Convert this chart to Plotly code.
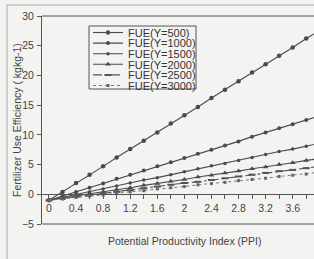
import plotly.graph_objects as go

ppi = [0.0, 0.2, 0.4, 0.6, 0.8, 1.0, 1.2, 1.4, 1.6, 1.8, 2.0,
       2.2, 2.4, 2.6, 2.8, 3.0, 3.2, 3.4, 3.6, 3.8, 4.0]

fue_500 = [-1.0, 0.4, 1.9, 3.3, 4.7, 6.2, 7.6, 9.0, 10.4, 11.9, 13.3,
           14.7, 16.2, 17.6, 19.0, 20.5, 21.9, 23.3, 24.7, 26.2, 27.6]
fue_1000 = [-1.0, -0.3, 0.4, 1.1, 1.8, 2.6, 3.3, 4.0, 4.7, 5.4, 6.1,
            6.8, 7.5, 8.2, 8.9, 9.7, 10.4, 11.1, 11.8, 12.5, 13.2]
fue_1500 = [-1.0, -0.5, 0.0, 0.4, 0.9, 1.4, 1.9, 2.4, 2.8, 3.3, 3.8,
            4.3, 4.8, 5.2, 5.7, 6.2, 6.7, 7.2, 7.6, 8.1, 8.6]
fue_2000 = [-1.0, -0.7, -0.3, 0.1, 0.4, 0.8, 1.1, 1.5, 1.8, 2.2, 2.5,
            2.9, 3.2, 3.6, 3.9, 4.3, 4.6, 5.0, 5.3, 5.7, 6.0]
fue_2500 = [-1.0, -0.7, -0.4, -0.1, 0.1, 0.4, 0.7, 1.0, 1.3, 1.6, 1.9,
            2.1, 2.4, 2.7, 3.0, 3.3, 3.6, 3.9, 4.1, 4.4, 4.7]
fue_3000 = [-1.0, -0.8, -0.5, -0.3, -0.1, 0.2, 0.4, 0.6, 0.9, 1.1, 1.3,
            1.6, 1.8, 2.0, 2.3, 2.5, 2.7, 3.0, 3.2, 3.4, 3.7]

series_names = ["FUE(Y=500)", "FUE(Y=1000)", "FUE(Y=1500)",
                "FUE(Y=2000)", "FUE(Y=2500)", "FUE(Y=3000)"]
series_values = [fue_500, fue_1000, fue_1500, fue_2000, fue_2500, fue_3000]

x_ticks = [0, 0.4, 0.8, 1.2, 1.6, 2, 2.4, 2.8, 3.2, 3.6]
x_tick_text = ["0", "0.4", "0.8", "1.2", "1.6", "2", "2.4", "2.8", "3.2", "3.6"]
y_ticks = [-5, 0, 5, 10, 15, 20, 25, 30]

x_title = "Potential Productivity Index (PPI)"
y_title = "Fertilizer Use Efficiency ( kgkg-1)"

# styles
dark = "#4a4a4a"
styles = [
    dict(line=dict(color=dark, width=1.1), marker=dict(symbol="circle", size=4.5, color=dark)),
    dict(line=dict(color=dark, width=1.1), marker=dict(symbol="circle", size=4, color=dark)),
    dict(line=dict(color=dark, width=1.1), marker=dict(symbol="circle", size=3.5, color=dark)),
    dict(line=dict(color=dark, width=1.1), marker=dict(symbol="triangle-up", size=5, color=dark)),
    dict(line=dict(color="#555555", width=1.1, dash="dashdot"),
         marker=dict(symbol="line-ew", size=5, line=dict(color="#555555", width=2))),
    dict(line=dict(color="#777777", width=1, dash="dot"),
         marker=dict(symbol="square", size=3, color="#666666")),
]

W, H = 314, 259
ml, mr, mt, mb = 42, 0, 16, 35
pw, ph = W - ml - mr, H - mt - mb

def px_x(p):
    return (p - ml) / pw

def px_y(p):
    return (H - mb - p) / ph

fig = go.Figure()
legend_tops = [18.0, 28.6, 39.2, 49.8, 60.4, 71.0]
for i, (name, vals) in enumerate(zip(series_names, series_values)):
    lname = "legend" if i == 0 else f"legend{i+1}"
    fig.add_trace(go.Scatter(x=ppi, y=vals, mode="lines+markers", name=name,
                             legend=lname, cliponaxis=True, **styles[i]))

legend_common = dict(xanchor="left", yanchor="top", bgcolor="rgba(0,0,0,0)",
                     borderwidth=0, itemwidth=30,
                     font=dict(family="Liberation Sans, Arial", size=11, color="#333333"))
legend_layout = {}
for i, t in enumerate(legend_tops):
    lname = "legend" if i == 0 else f"legend{i+1}"
    legend_layout[lname] = dict(x=px_x(88), y=px_y(t), **legend_common)

font = dict(family="Liberation Sans, Arial", size=10.5, color="#444444")
axcol = "#555555"

fig.update_layout(
    width=W, height=H,
    margin=dict(l=ml, r=mr, t=mt, b=mb, pad=0, autoexpand=False),
    paper_bgcolor="#f3f3f1", plot_bgcolor="#f3f3f1",
    font=font,
    showlegend=True,
    xaxis=dict(range=[-0.103, 3.915], anchor="free", position=5/35,
               tickvals=x_ticks, ticktext=x_tick_text,
               ticks="outside", ticklen=4, tickcolor=axcol,
               minor=dict(dtick=0.2, ticks="outside", ticklen=4, tickcolor=axcol),
               showline=True, linecolor=axcol, linewidth=1,
               showgrid=False, zeroline=False, ticklabelstandoff=0,
               tickfont=dict(size=10.5, color="#444444")),
    yaxis=dict(range=[-5, 30], tickvals=y_ticks,
               ticks="outside", ticklen=4, tickcolor=axcol,
               showline=True, linecolor=axcol, linewidth=1,
               showgrid=False, zeroline=False, ticklabelstandoff=1,
               tickfont=dict(size=10.5, color="#444444")),
    **legend_layout,
)

annotations = [
    dict(text=x_title, xref="paper", yref="paper", x=px_x(185), y=px_y(241),
         xanchor="center", yanchor="middle", showarrow=False,
         font=dict(size=10.5, color="#444444")),
    dict(text=y_title, xref="paper", yref="paper", x=px_x(17), y=px_y(120),
         xanchor="center", yanchor="middle", showarrow=False, textangle=-90,
         font=dict(size=10.5, color="#444444")),
]

# frame lines and legend box
shapes = [
    dict(type="line", xref="paper", yref="paper", x0=0, x1=1, y0=1, y1=1,
         line=dict(color=axcol, width=1)),
    dict(type="line", xref="paper", yref="paper", x0=0, x1=1, y0=0, y1=0,
         line=dict(color=axcol, width=1)),
    dict(type="line", xref="paper", yref="paper", x0=px_x(7), x1=1.0, y0=px_y(5), y1=px_y(5),
         line=dict(color="#aaaaaa", width=1)),
    dict(type="line", xref="paper", yref="paper", x0=px_x(7), x1=px_x(7), y0=px_y(5), y1=px_y(259),
         line=dict(color="#aaaaaa", width=1)),
    dict(type="rect", xref="paper", yref="paper", x0=px_x(89), x1=px_x(196),
         y0=px_y(89), y1=px_y(26), line=dict(color=axcol, width=1),
         fillcolor="#f3f3f1", layer="below"),
]
fig.update_layout(shapes=shapes, annotations=annotations)

fig.write_html("out.html", config={"displayModeBar": False},
               post_script="document.body.style.margin='0';document.body.style.padding='0';")
